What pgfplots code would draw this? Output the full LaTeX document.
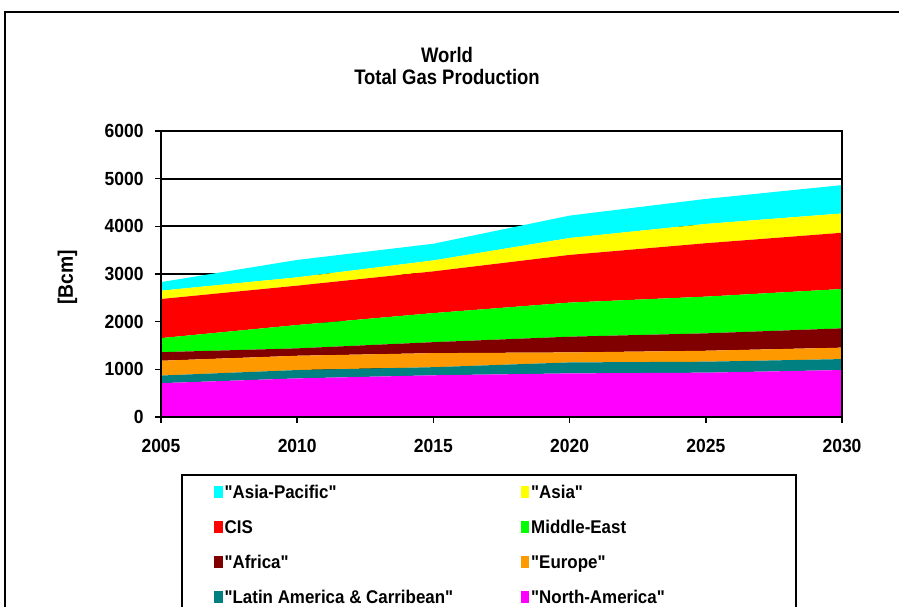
\documentclass[border=0pt]{standalone}
\usepackage{fontspec}
\setmainfont{Liberation Sans}[FakeStretch=0.92, Ligatures=TeXOff]
\newfontfamily\titlefont{Liberation Sans}[FakeStretch=0.88]
\usepackage{pgfplots}
\usepackage{pgfplotstable}
\pgfplotsset{compat=1.18}

\definecolor{cAP}{RGB}{0,255,255}
\definecolor{cAS}{RGB}{255,255,0}
\definecolor{cCIS}{RGB}{255,0,0}
\definecolor{cME}{RGB}{0,255,0}
\definecolor{cAF}{RGB}{128,0,0}
\definecolor{cEU}{RGB}{255,153,0}
\definecolor{cLA}{RGB}{0,128,128}
\definecolor{cNA}{RGB}{255,0,255}

\pgfplotsset{
  /pgfplots/layers/gridbelow/.define layer set={
    axis background,axis grid,main,axis ticks,axis lines,
    axis tick labels,axis descriptions,axis foreground
  }{/pgfplots/layers/standard},
}

\pgfplotstableread{
year NA  LA  EU  AF  ME  CIS  AS  AP
2005 710 160 310 180 295 820  175 180
2010 810 175 300 155 490 825  175 365
2015 875 170 295 230 610 875  230 350
2020 915 230 210 330 715 1000 355 470
2025 930 230 230 365 770 1120 405 525
2030 985 230 240 405 825 1180 405 595
}\datatable

\begin{document}
\begin{tikzpicture}
\draw[line width=1pt] (2.5pt,-10pt) -- (2.5pt,297pt) -- (470pt,297pt);
\begin{axis}[
  set layers=gridbelow,
  at={(80.5pt,94.5pt)}, anchor=south west,
  scale only axis, width=340.5pt, height=143pt,
  xmin=2005, xmax=2030, ymin=0, ymax=6000,
  xtick={2005,2010,2015,2020,2025,2030},
  ytick={0,1000,2000,3000,4000,5000,6000},
  /pgf/number format/assume math mode=true,
  /pgf/number format/1000 sep={},
  tick align=outside, tick pos=left, major tick length=3pt,
  tick style={black, line width=0.75pt},
  ymajorgrids, major grid style={black, line width=1pt},
  axis line style={black, line width=1pt},
  tick label style={font=\fontsize{9.5}{11}\selectfont\bfseries},
  yticklabel style={inner sep=0pt}, yticklabel shift=5.5pt,
  xticklabel style={inner sep=0pt}, xticklabel shift=8.15pt,
  stack plots=y, no markers,
  title={World\\Total Gas Production},
  every axis title/.style={at={(0.42,1)}, anchor=south, inner sep=0pt,
    align=center, yshift=23pt,
    font=\titlefont\fontsize{10.5}{10.85}\selectfont\bfseries},
  ylabel={[Bcm]},
  every axis y label/.style={at={(axis description cs:-0.1373,0.4878)},
    rotate=90, anchor=center, font=\fontsize{10.5}{12}\selectfont\bfseries},
  legend columns=2, reverse legend, legend cell align=left,
  legend image code/.code={\fill[#1] (0pt,-3pt) rectangle (4.1pt,2.8pt);},
  legend style={at={(axis description cs:0.02937,-0.1993)}, anchor=north west,
    draw=black, line width=1pt, inner xsep=16.2pt, inner ysep=5pt,
    font=\fontsize{9.2}{11}\selectfont\bfseries,
    row sep=10.9pt, column sep=0pt,
    nodes={inner sep=0pt, text height=6.6pt, text depth=0pt},
    /tikz/every odd column/.style={column sep=1pt}},
]
\addplot[fill=cNA, draw=none] table[x=year,y=NA] {\datatable} \closedcycle;
\addlegendentry{\makebox[116.2pt][l]{"North-America"}}
\addplot[fill=cLA, draw=none] table[x=year,y=LA] {\datatable} \closedcycle;
\addlegendentry{\makebox[148.2pt][l]{"Latin America \& Carribean"}}
\addplot[fill=cEU, draw=none] table[x=year,y=EU] {\datatable} \closedcycle;
\addlegendentry{\makebox[116.2pt][l]{"Europe"}}
\addplot[fill=cAF, draw=none] table[x=year,y=AF] {\datatable} \closedcycle;
\addlegendentry{\makebox[148.2pt][l]{"Africa"}}
\addplot[fill=cME, draw=none] table[x=year,y=ME] {\datatable} \closedcycle;
\addlegendentry{\makebox[116.2pt][l]{Middle-East}}
\addplot[fill=cCIS, draw=none] table[x=year,y=CIS] {\datatable} \closedcycle;
\addlegendentry{\makebox[148.2pt][l]{CIS}}
\addplot[fill=cAS, draw=none] table[x=year,y=AS] {\datatable} \closedcycle;
\addlegendentry{\makebox[116.2pt][l]{"Asia"}}
\addplot[fill=cAP, draw=none] table[x=year,y=AP] {\datatable} \closedcycle;
\addlegendentry{\makebox[148.2pt][l]{"Asia-Pacific"}}
\end{axis}
\pgfresetboundingbox
\useasboundingbox (0,0) rectangle (449.5pt,303pt);
\end{tikzpicture}
\end{document}
